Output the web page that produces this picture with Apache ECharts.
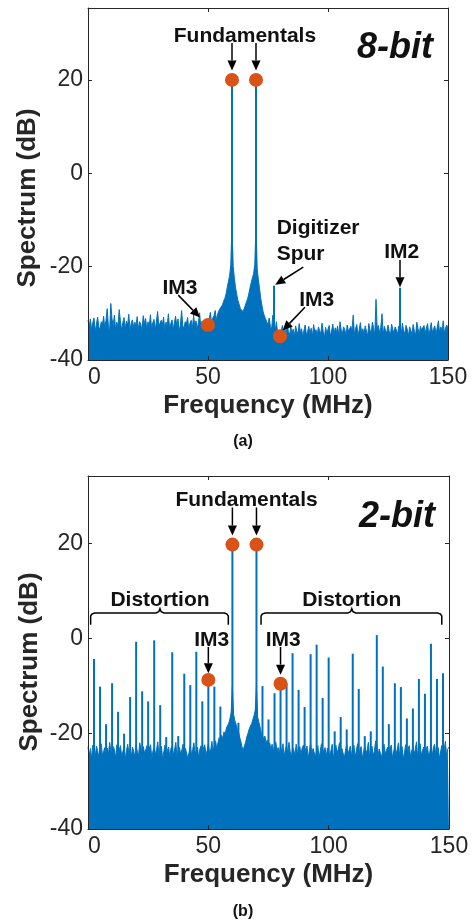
<!DOCTYPE html>
<html><head><meta charset="utf-8">
<script src="https://cdn.jsdelivr.net/npm/echarts@6/dist/echarts.min.js"></script>
<style>html,body{margin:0;padding:0;background:#fff}#main{width:476px;height:921px}</style>
</head><body><div id="main"></div>
<script>
// ---------------- DATA ----------------
const FREQ_STEP = 0.5;              // MHz between noise-floor samples (0 .. 150)
const xTicks = [0, 50, 100, 150];
const yTicks = [-40, -20, 0, 20];

// (a) 8-bit : noise floor / skirts (dB), one value every 0.5 MHz
const noiseA = [
-31.5,-32.8,-31.2,-33.5,-32.0,-31.0,-33.8,-32.4,-30.8,-32.9,
-33.6,-31.8,-32.5,-30.6,-33.2,-31.5,-29.0,-32.7,-33.9,-27.9,
-31.2,-32.6,-30.4,-33.4,-31.9,-32.8,-29.2,-31.6,-33.7,-32.0,
-30.9,-33.3,-31.7,-32.5,-30.2,-33.8,-32.1,-31.4,-33.0,-31.9,
-32.6,-30.7,-33.5,-31.8,-32.3,-33.9,-30.5,-32.2,-31.1,-33.4,
-31.8,-32.9,-30.3,-33.2,-32.0,-31.3,-33.6,-31.7,-29.6,-32.8,
-33.1,-31.5,-32.4,-30.8,-33.7,-31.9,-32.6,-30.1,-33.3,-32.2,
-31.4,-33.5,-32.0,-30.6,-32.9,-31.2,-33.8,-32.5,-29.4,-32.7,
-33.2,-31.8,-32.3,-30.9,-33.6,-32.1,-31.5,-33.3,-30.4,-32.8,
-31.6,-33.4,-32.0,-29.9,-33.0,-31.7,-32.6,-33.5,-31.3,-32.9,
-32.5,-31.2,-29.8,-32.4,-31.0,-30.5,-29.4,-31.5,-30.2,-29.5,
-29.0,-28.6,-28.2,-27.4,-26.8,-25.9,-24.5,-23.2,-22.0,-19.5,
-11.0,-20.0,-22.5,-24.6,-26.0,-27.3,-28.1,-29.0,-28.7,-29.6,
-29.1,-28.4,-27.6,-26.9,-25.8,-24.6,-23.4,-22.4,-21.5,-19.5,
-11.0,-20.5,-22.8,-24.8,-26.9,-28.4,-29.7,-30.6,-31.2,-31.9,
-32.4,-31.0,-32.8,-33.5,-30.4,-32.2,-33.6,-31.8,-34.3,-34.6,
-34.9,-33.8,-32.6,-34.5,-33.1,-34.8,-32.4,-33.9,-34.6,-32.9,
-34.2,-33.4,-35.0,-32.7,-33.8,-34.5,-32.2,-34.1,-33.3,-35.1,
-33.6,-32.5,-34.7,-33.9,-32.8,-34.3,-33.2,-35.0,-32.4,-34.0,
-33.5,-34.8,-32.9,-33.7,-34.4,-32.1,-33.9,-35.2,-33.0,-34.2,
-33.4,-32.6,-34.9,-33.8,-32.3,-34.5,-33.1,-34.0,-32.7,-35.0,
-31.8,-33.6,-34.3,-32.9,-33.5,-34.7,-32.5,-33.9,-34.1,-32.8,
-33.7,-30.4,-34.6,-33.2,-32.4,-34.8,-33.5,-32.0,-34.2,-33.3,
-34.5,-32.7,-33.8,-34.9,-32.2,-33.6,-34.4,-31.9,-33.1,-34.7,
-27.0,-33.4,-32.6,-34.3,-33.0,-30.1,-34.6,-32.8,-33.7,-34.2,
-32.5,-33.9,-34.8,-32.3,-33.5,-34.1,-32.9,-33.6,-34.5,-32.7,
-33.2,-34.6,-32.1,-33.8,-34.3,-32.6,-33.4,-35.0,-32.9,-33.7,
-34.4,-32.4,-33.9,-34.7,-31.9,-33.3,-34.5,-32.8,-33.6,-34.0,
-32.6,-34.3,-33.1,-32.2,-34.8,-33.5,-32.0,-34.1,-33.3,-32.7,
-34.6,-33.0,-31.6,-34.2,-32.9,-33.8,-31.6,-34.4,-33.1,-32.5,
-33.4
];
// (a) discrete tones [MHz, dB]
const spikesA = [[60, 20], [70, 20], [77.5, -24.1], [130, -24.5]];
// (a) highlighted tones (fundamentals + IM3) [MHz, dB]
const markersA = [[50, -32.5], [60, 20], [70, 20], [80, -34.9]];

// (b) 2-bit : noise floor / skirts (dB), one value every 0.5 MHz
const noiseB = [
-22.8,-24.6,-23.1,-25.2,-22.4,-23.9,-24.8,-22.6,-23.5,-25.0,
-23.2,-22.1,-24.5,-23.7,-22.9,-25.3,-23.0,-24.2,-21.8,-23.6,
-24.9,-22.7,-23.4,-25.1,-22.3,-24.0,-23.3,-22.5,-24.7,-23.8,
-22.6,-25.4,-23.5,-22.2,-24.3,-23.1,-24.9,-22.8,-23.7,-25.0,
-22.4,-23.9,-24.6,-21.9,-23.2,-25.2,-22.7,-24.1,-23.4,-22.5,
-24.8,-23.0,-22.3,-25.1,-23.6,-22.9,-24.4,-23.3,-21.7,-24.7,
-23.1,-22.6,-25.3,-23.8,-22.4,-24.2,-23.5,-22.8,-24.9,-23.0,
-22.5,-24.6,-23.2,-21.8,-25.0,-23.7,-22.9,-24.3,-23.4,-22.2,
-24.8,-23.1,-22.7,-25.2,-23.9,-22.4,-24.5,-23.3,-21.9,-24.1,
-23.6,-22.8,-25.1,-23.2,-22.5,-24.7,-23.0,-22.3,-24.4,-23.5,
-22.1,-24.0,-23.4,-21.6,-23.8,-22.7,-21.5,-23.1,-21.9,-20.8,
-21.4,-20.3,-21.0,-19.6,-20.2,-18.8,-19.0,-17.8,-16.8,-15.5,
-10.0,-16.0,-17.2,-18.0,-18.9,-19.5,-20.7,-21.6,-22.8,-23.4,
-22.5,-21.8,-20.6,-19.9,-19.0,-18.4,-17.9,-17.0,-16.2,-15.0,
-10.0,-16.5,-17.6,-18.6,-19.8,-20.4,-21.1,-20.5,-22.0,-21.3,
-22.6,-21.9,-23.3,-22.2,-23.8,-22.4,-21.7,-23.5,-22.9,-24.2,
-22.6,-23.9,-22.1,-24.8,-23.3,-22.5,-24.1,-21.8,-23.7,-25.0,
-22.9,-23.4,-24.6,-22.2,-23.8,-25.1,-22.7,-24.3,-23.0,-22.4,
-24.7,-23.2,-22.6,-25.2,-23.5,-22.0,-24.4,-23.1,-22.8,-24.9,
-23.3,-22.5,-25.0,-23.7,-22.1,-24.2,-23.6,-22.9,-24.8,-23.0,
-22.7,-24.5,-23.4,-22.2,-25.3,-23.8,-22.4,-24.0,-23.2,-21.9,
-24.6,-23.1,-22.8,-25.1,-23.5,-22.3,-24.3,-23.9,-22.6,-24.7,
-23.0,-22.4,-24.9,-23.6,-22.1,-24.4,-23.3,-22.7,-25.2,-23.8,
-22.5,-24.1,-23.4,-21.8,-24.8,-23.1,-22.6,-24.5,-23.7,-21.5,
-22.3,-24.6,-23.2,-22.9,-25.0,-23.6,-22.2,-24.3,-23.5,-22.8,
-24.7,-23.0,-22.4,-25.1,-23.8,-22.6,-24.2,-23.3,-21.9,-24.5,
-23.4,-22.7,-25.3,-23.9,-22.3,-24.0,-23.1,-22.5,-24.8,-23.6,
-22.9,-24.4,-23.2,-21.7,-24.9,-23.7,-22.1,-24.6,-23.5,-22.8,
-25.0,-23.3,-22.6,-24.5,-23.9,-22.4,-24.7,-23.0,-22.2,-24.1,
-23.6,-22.9,-25.2,-23.8,-22.5,-24.3,-23.4,-21.6,-24.6,-23.2,
-22.8
];
// (b) discrete tones: fundamentals and distortion products [MHz, dB]
const spikesB = [
[2.5,-4.3],[5,-10.1],[7.5,-18.0],[10,-9.4],[12.5,-15.4],[15,-20.0],[17.5,-12.3],[20,-0.7],
[22.5,-11.1],[25,-13.2],[27.5,-0.4],[30,-14.0],[32.5,-20.7],[35,-2.9],[37.5,-20.5],[40,-7.4],
[42.5,-9.8],[45,-2.8],[47.5,-13.2],[50,-8.7],[52.5,-10.1],[55,-14.3],[57.5,-19.9],[60,19.7],
[62.5,-17.7],[67.5,-19.5],[70,19.7],[72.5,-10.0],[75,-17.0],[77.5,-11.5],[80,-9.5],[82.5,-9.4],
[85,-3.1],[87.5,-10.8],[90,-14.4],[92.5,-3.3],[95,-1.3],[97.5,-12.5],[100,-4.0],[102.5,-19.5],
[105,-16.5],[107.5,-19.1],[110,-3.2],[112.5,-10.6],[115,-20.5],[117.5,-19.5],[120,0.7],[122.5,-5.9],
[125,-18.0],[127.5,-9.4],[130,-10.2],[132.5,-16.8],[135,-14.7],[137.5,-8.5],[140,-11.6],[142.5,-1.1],
[145,-8.5],[147.5,-7.3]
];
// (b) highlighted tones (fundamentals + IM3) [MHz, dB]
const markersB = [[50, -8.7], [60, 19.7], [70, 19.7], [80, -9.5]];

// ---------------- STYLE / LAYOUT ----------------
const BLUE = '#0072BD', ORANGE = '#D95319', AX = '#262626', INK = '#111111';
const FONT = '"Liberation Sans", Arial, Helvetica, sans-serif';
const Y_MIN = -40;
const panels = [
  { top: 8,   width: 360, height: 352, yMax: 35.4, noise: noiseA, spikes: spikesA, markers: markersA },
  { top: 476, width: 361, height: 353, yMax: 34.1, noise: noiseB, spikes: spikesB, markers: markersB }
];

const chart = echarts.init(document.getElementById('main'), null, { renderer: 'canvas' });

const grid = [], xAxis = [], yAxis = [], series = [];
panels.forEach((p, g) => {
  grid.push({ left: 88, top: p.top, width: p.width, height: p.height, show: false });
  const xBase = {
    type: 'value', gridIndex: g, min: xTicks[0], max: xTicks[xTicks.length - 1], interval: xTicks[1] - xTicks[0],
    z: 10, splitLine: { show: false },
    axisLine: { show: true, onZero: false, lineStyle: { color: AX, width: 1 } },
    axisTick: { show: true, inside: true, length: 4, lineStyle: { color: AX, width: 1 } }
  };
  xAxis.push(Object.assign({}, xBase, {
    position: 'bottom',
    axisLabel: { show: true, fontSize: 23, color: AX, fontFamily: FONT, margin: 6, alignMinLabel: 'left' },
    name: 'Frequency (MHz)', nameLocation: 'middle', nameGap: 33,
    nameTextStyle: { fontSize: 26, fontWeight: 'bold', color: AX, fontFamily: FONT }
  }));
  xAxis.push(Object.assign({}, xBase, { position: 'top', axisLabel: { show: false } }));
  const yBase = {
    type: 'value', gridIndex: g, min: Y_MIN, max: p.yMax, interval: yTicks[1] - yTicks[0],
    z: 10, splitLine: { show: false },
    axisLine: { show: true, onZero: false, lineStyle: { color: AX, width: 1 } },
    axisTick: { show: true, inside: true, length: 4, lineStyle: { color: AX, width: 1 } }
  };
  yAxis.push(Object.assign({}, yBase, {
    position: 'left',
    axisLabel: { show: true, fontSize: 23, color: AX, fontFamily: FONT, margin: 5,
      formatter: v => (yTicks.indexOf(v) >= 0 ? String(v) : '') }
  }));
  yAxis.push(Object.assign({}, yBase, { position: 'right', axisLabel: { show: false } }));

  series.push({
    type: 'line', xAxisIndex: 2 * g, yAxisIndex: 2 * g, z: 2,
    data: p.noise.map((v, i) => [i * FREQ_STEP, v]),
    showSymbol: false, symbol: 'none', silent: true,
    lineStyle: { color: BLUE, width: 1 },
    areaStyle: { color: BLUE, opacity: 1, origin: 'start' }
  });
  series.push({
    type: 'custom', xAxisIndex: 2 * g, yAxisIndex: 2 * g, z: 3, silent: true,
    data: p.spikes, encode: { x: 0, y: 1 },
    renderItem: (params, api) => {
      const x = api.value(0), y = api.value(1);
      const a = api.coord([x, Y_MIN]), b = api.coord([x, y]);
      return { type: 'line', shape: { x1: a[0], y1: a[1], x2: b[0], y2: b[1] },
               style: { stroke: BLUE, lineWidth: 2 } };
    }
  });
  series.push({
    type: 'scatter', xAxisIndex: 2 * g, yAxisIndex: 2 * g, z: 4, silent: true,
    data: p.markers, symbol: 'circle', symbolSize: 14,
    itemStyle: { color: ORANGE, opacity: 1 }
  });
});

chart.setOption({ animation: false, grid, xAxis, yAxis, series });

// ---------------- ANNOTATIONS (anchored in data coordinates) ----------------
const P = (g, pt) => chart.convertToPixel({ xAxisIndex: 2 * g, yAxisIndex: 2 * g }, pt);
const gfx = [];
function txt(x, y, str, font, align, color) {
  gfx.push({ type: 'text', x, y, z: 100, silent: true,
    style: { text: str, font, fill: color || INK, textAlign: align || 'center', align: align || 'center',
             textVerticalAlign: 'middle', verticalAlign: 'middle' } });
}
function label(g, pt, str, align, font) {
  const p = P(g, pt);
  txt(p[0], p[1], str, font || ('bold 21px ' + FONT), align);
}
function arrow(g, from, to) {
  const p0 = P(g, from), p1 = P(g, to);
  const dx = p1[0] - p0[0], dy = p1[1] - p0[1], L = Math.hypot(dx, dy);
  const ux = dx / L, uy = dy / L, HL = 10, HW = 4.5;
  const bx = p1[0] - ux * HL, by = p1[1] - uy * HL;
  gfx.push({ type: 'line', z: 100, silent: true, shape: { x1: p0[0], y1: p0[1], x2: bx, y2: by },
             style: { stroke: '#000', lineWidth: 1.5 } });
  gfx.push({ type: 'polygon', z: 100, silent: true,
             shape: { points: [[p1[0], p1[1]], [bx - uy * HW, by + ux * HW], [bx + uy * HW, by - ux * HW]] },
             style: { fill: '#000' } });
}
function brace(g, x0, x1, xm, yLine, yHook, yNotch) {
  const a = P(g, [x0, yLine]), b = P(g, [x1, yLine]), m = P(g, [xm, yLine]);
  const h = P(g, [x0, yHook])[1], n = P(g, [xm, yNotch])[1], y = a[1];
  const pts = [[a[0], h], [a[0], y + 3], [a[0] + 1.2, y + 1.2], [a[0] + 4, y], [m[0] - 4, y], [m[0] - 1.2, y - 1.2],
               [m[0], n], [m[0] + 1.2, y - 1.2], [m[0] + 4, y], [b[0] - 4, y], [b[0] - 1.2, y + 1.2], [b[0], y + 3], [b[0], h]];
  gfx.push({ type: 'polyline', z: 100, silent: true, shape: { points: pts },
             style: { stroke: '#000', lineWidth: 1.5, fill: null } });
}

// panel (a)
label(0, [65.4, 29.3], 'Fundamentals');
arrow(0, [60, 27.9], [60, 22.0]);
arrow(0, [70, 27.9], [70, 22.0]);
label(0, [143.75, 26.9], '8-bit', 'right', 'italic bold 36px ' + FONT);
label(0, [78.6, -11.8], 'Digitizer', 'left');
label(0, [78.6, -17.3], 'Spur', 'left');
arrow(0, [89.7, -20.1], [78.0, -23.9]);
label(0, [130.7, -17.0], 'IM2');
arrow(0, [130, -18.6], [130, -24.4]);
label(0, [38.3, -24.6], 'IM3');
arrow(0, [37.6, -26.1], [46.7, -30.9]);
label(0, [95.3, -27.1], 'IM3');
arrow(0, [90.4, -28.7], [81.1, -33.7]);

// panel (b)
label(1, [65.9, 29.0], 'Fundamentals');
arrow(1, [60, 27.5], [60, 21.6]);
arrow(1, [70, 27.5], [70, 21.6]);
label(1, [144.2, 25.4], '2-bit', 'right', 'italic bold 36px ' + FONT);
label(1, [29.9, 8.1], 'Distortion');
label(1, [109.6, 8.1], 'Distortion');
brace(1, 1.1, 58.3, 29.9, 5.35, 2.9, 6.25);
brace(1, 71.9, 147.0, 109.6, 5.35, 2.9, 6.25);
label(1, [51.4, -0.3], 'IM3');
arrow(1, [50, -1.8], [50, -7.3]);
label(1, [81.1, -0.3], 'IM3');
arrow(1, [80, -1.8], [80, -7.6]);

// y-axis titles and panel captions
gfx.push({ type: 'text', x: 28, y: 198, rotation: Math.PI / 2, z: 100, silent: true,
  style: { text: 'Spectrum (dB)', font: 'bold 26px ' + FONT, fill: AX, textAlign: 'center', align: 'center',
           textVerticalAlign: 'middle', verticalAlign: 'middle' } });
gfx.push({ type: 'text', x: 30, y: 662, rotation: Math.PI / 2, z: 100, silent: true,
  style: { text: 'Spectrum (dB)', font: 'bold 26px ' + FONT, fill: AX, textAlign: 'center', align: 'center',
           textVerticalAlign: 'middle', verticalAlign: 'middle' } });
txt(243, 442, '(a)', 'bold 16px ' + FONT, 'center', INK);
txt(243, 912, '(b)', 'bold 16px ' + FONT, 'center', INK);

chart.setOption({ graphic: gfx });
</script>
</body></html>
